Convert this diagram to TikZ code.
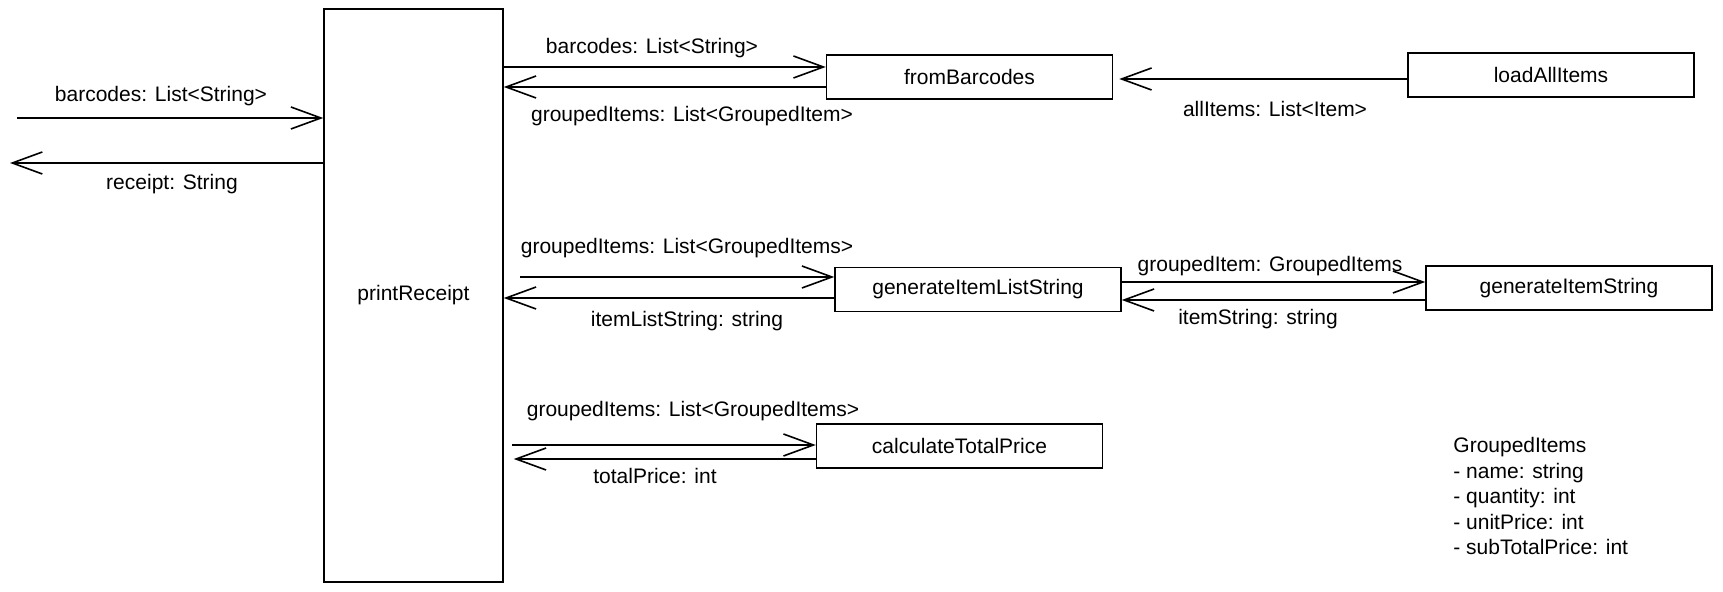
\documentclass[tikz,border=0pt]{standalone}
\usepackage{fontspec}
\setmainfont{Liberation Sans}
\usetikzlibrary{arrows.meta, positioning}

\begin{document}
\begin{tikzpicture}[
  x=0.5pt, y=-0.5pt,
  every node/.style={font=\fontsize{10.5}{12.75}\selectfont, inner sep=1pt},
  func/.style={draw, line width=0.75pt, minimum width=143pt, minimum height=22pt},
  flow/.style={-{Straight Barb[length=15pt,width=11pt]}, line width=0.8pt}
]
  \useasboundingbox (0,0) rectangle (1723,592);

  \node[func, minimum width=89.5pt, minimum height=286.5pt] (pr) at (413.5,295.5) {printReceipt};
  \node[func] (fb) at (969.5,77) {fromBarcodes};
  \node[func] (la) at (1551,75) {loadAllItems};
  \node[func] (gl) at (978,289.5) {generateItemListString};
  \node[func] (gs) at (1569,288) {generateItemString};
  \node[func] (ct) at (959.5,446) {calculateTotalPrice};

  \coordinate (in) at (17,118);
  \coordinate (out) at (10,163);

  \draw[flow] (in) -- (pr.west |- in);
  \draw[flow] (pr.west |- out) -- (out);
  \draw[flow] (pr.east |- 0,67) -- (fb.west |- 0,67);
  \draw[flow] (fb.west |- 0,87) -- (pr.east |- 0,87);
  \draw[flow, shorten >=3pt] (la.west |- 0,79) -- (fb.east |- 0,79);
  \draw[flow, shorten <=8pt] (pr.east |- 0,277) -- (gl.west |- 0,277);
  \draw[flow] (gl.west |- 0,298) -- (pr.east |- 0,298);
  \draw[flow] (gl.east |- 0,282) -- (gs.west |- 0,282);
  \draw[flow] (gs.west |- 0,300) -- (gl.east |- 0,300);
  \draw[flow, shorten <=4pt] (pr.east |- 0,445) -- (ct.west |- 0,445);
  \draw[flow, shorten >=5pt] (ct.west |- 0,459) -- (pr.east |- 0,459);

  \node (l1) at (161,96) {barcodes: List<String>};
  \node (l2) at (172,184) {receipt: String};
  \node (l3) at (652,48) {barcodes: List<String>};
  \node (l4) at (692,116) {groupedItems: List<GroupedItem>};
  \node (l5) at (1275,109) {allItems: List<Item>};
  \node (l6) at (687,248) {groupedItems: List<GroupedItems>};
  \node (l7) at (687,321) {itemListString: string};
  \node (l8) at (1270,266) {groupedItem: GroupedItems};
  \node (l9) at (1258,319) {itemString: string};
  \node (l10) at (693,411) {groupedItems: List<GroupedItems>};
  \node (l11) at (655,476) {totalPrice: int};

  \node[align=left, anchor=west] (gi) at (1451,496)
    {GroupedItems\\- name: string\\- quantity: int\\- unitPrice: int\\- subTotalPrice: int};
\end{tikzpicture}
\end{document}
